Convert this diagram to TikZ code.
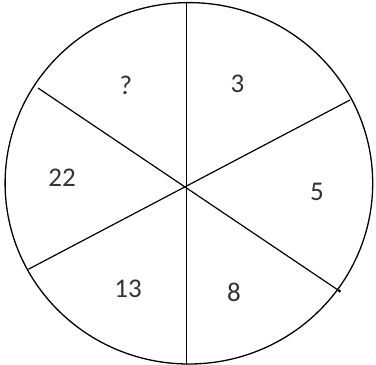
\documentclass[tikz,border=0pt]{standalone}
\usepackage{fontspec}
\setmainfont{Carlito}
\begin{document}
\begin{tikzpicture}[x=1pt,y=-1pt,
  rim/.style={draw=black,line width=1.3pt},
  spoke/.style={draw=black,line width=1.2pt},
  num/.style={text=black!80,font=\fontsize{27}{31}\selectfont,inner sep=0pt}]
\useasboundingbox (0,0) rectangle (376,365);
\fill[white] (0,0) rectangle (376,365);
\draw[rim] (188.9,183.3) ellipse [x radius=183.8, y radius=180.7];
\coordinate (top) at (186.5,2.8);
\coordinate (bot) at (186.5,365);
\coordinate (ul) at (38,88);
\coordinate (lr) at (339.5,291);
\coordinate (ur) at (350,100);
\coordinate (ll) at (28.3,269.3);
\draw[spoke] (top) -- (bot);
\draw[spoke] (ul) -- (lr);
\draw[spoke] (ur) -- (ll);
\fill (lr) circle (1.6pt);
\node[num] (q) at (126,85) {?};
\node[num] (n3) at (237.5,83.5) {3};
\node[num] (n22) at (62,178) {22};
\node[num] (n5) at (317,192) {5};
\node[num] (n13) at (128,289) {13};
\node[num] (n8) at (234,292.5) {8};
\end{tikzpicture}
\end{document}
